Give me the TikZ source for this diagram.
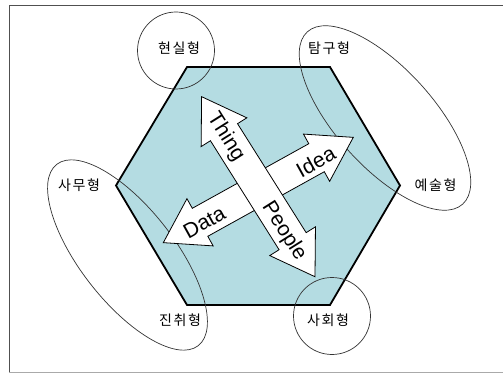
\documentclass[tikz,border=0pt]{standalone}
\usepackage{fontspec}
\setmainfont{Liberation Sans}
\newfontfamily\kr[LetterSpace=12]{Noto Sans CJK KR}
\definecolor{hexfill}{RGB}{180,220,226}
\definecolor{framedark}{RGB}{80,80,80}
\definecolor{framelight}{RGB}{170,170,170}
\tikzset{
  ring/.style={draw=black!80, line width=0.7pt},
  bigarrow/.style={draw=black, fill=white, line width=0.8pt, line join=miter},
  lbl/.style={font=\fontsize{21}{21}\selectfont, inner sep=0pt},
  kor/.style={font=\kr\fontsize{14}{14}\selectfont, inner sep=0pt},
}
\begin{document}
\begin{tikzpicture}[x=1pt,y=-1pt]
\useasboundingbox (0,0) rectangle (503,374);
% frame
\coordinate (ftl) at (9.3,5.7);
\coordinate (ftr) at (503,5.7);
\coordinate (fbl) at (9.3,372.7);
\coordinate (fbr) at (503,372.7);
\draw[framedark, line width=1pt] (fbl) -- (ftl) -- (ftr);
\draw[framelight, line width=1pt] (fbl) -- (fbr);
% hexagon
\coordinate (h1) at (187,67);
\coordinate (h2) at (330,67);
\coordinate (h3) at (400,185.5);
\coordinate (h4) at (330,305);
\coordinate (h5) at (187,305);
\coordinate (h6) at (116,185.5);
\filldraw[fill=hexfill, draw=black, line width=1.8pt, line join=miter]
  (h1) -- (h2) -- (h3) -- (h4) -- (h5) -- (h6) -- cycle;
% ellipses and circles
\coordinate (ea) at (385,118);
\coordinate (eb) at (127.5,255);
\coordinate (ca) at (176,50.5);
\coordinate (cb) at (332,316);
\draw[ring, rotate around={-48:(ea)}] (ea) ellipse [x radius=116, y radius=49];
\draw[ring, rotate around={-52:(eb)}] (eb) ellipse [x radius=115, y radius=47];
\draw[ring] (ca) circle [radius=38.5];
\draw[ring] (cb) circle [radius=38.5];
% Data / Idea arrow
\begin{scope}[shift={(258.3,190)}, rotate=29]
  \draw[bigarrow] (108.6,0) -- (66.6,27) -- (66.6,16) -- (-66.6,16) -- (-66.6,27)
    -- (-108.6,0) -- (-66.6,-27) -- (-66.6,-16) -- (66.6,-16) -- (66.6,-27) -- cycle;
  \node[lbl, rotate=29] (idea) at (64,3) {Idea};
  \node[lbl, rotate=29] (data) at (-62.8,2) {Data};
\end{scope}
% Thing / People arrow
\begin{scope}[shift={(258.3,186.7)}, rotate=122.2]
  \draw[bigarrow] (106.4,0) -- (64.4,27) -- (64.4,16) -- (-64.4,16) -- (-64.4,27)
    -- (-106.4,0) -- (-64.4,-27) -- (-64.4,-16) -- (64.4,-16) -- (64.4,-27) -- cycle;
  \node[lbl, rotate=-57.8] (thing) at (59.4,-1) {Thing};
  \node[lbl, rotate=-57.8] (people) at (-51.3,-2) {People};
\end{scope}
% type labels
\node[kor] (hyunsil) at (179,48.4) {현실형};
\node[kor] (tamgu) at (329,48.4) {탐구형};
\node[kor] (yesul) at (435.5,185) {예술형};
\node[kor] (samu) at (79,185) {사무형};
\node[kor] (jinchwi) at (180,320.5) {진취형};
\node[kor] (sahoe) at (328,320.5) {사회형};
\end{tikzpicture}
\end{document}
